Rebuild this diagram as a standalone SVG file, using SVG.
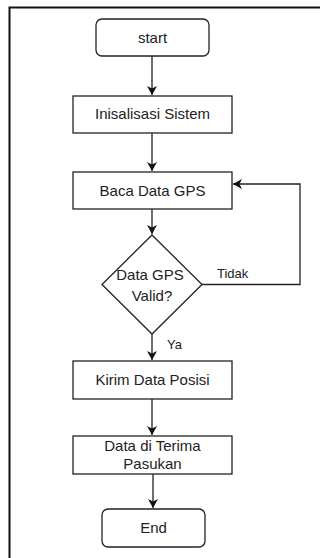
<svg xmlns="http://www.w3.org/2000/svg" width="320" height="558" viewBox="0 0 320 558">
<style>
.box{fill:#fff;stroke:#222;stroke-width:1.3}
.t{font-family:"Liberation Sans",Arial,sans-serif;font-size:15px;fill:#222;text-anchor:middle}
.lbl{font-family:"Liberation Sans",Arial,sans-serif;font-size:13px;fill:#222}
.c{fill:none;stroke:#222;stroke-width:1.3}
</style>
<defs>
<marker id="ah" markerWidth="12" markerHeight="12" refX="10" refY="6" orient="auto" markerUnits="userSpaceOnUse">
<path d="M1,1 L10,6 L1,11 L3.5,6 Z" fill="#111"/>
</marker>
</defs>
<rect x="0" y="0" width="320" height="558" fill="#fff"/>
<path d="M9.5,558 V7.5 H320" fill="none" stroke="#111" stroke-width="2"/>
<g id="connectors">
<path class="c" d="M152,56 V95" marker-end="url(#ah)"/>
<path class="c" d="M152,133 V171" marker-end="url(#ah)"/>
<path class="c" d="M152,209 V234" marker-end="url(#ah)"/>
<path class="c" d="M202,284.5 H300 V184 H233" marker-end="url(#ah)"/>
<path class="c" d="M152,334 V360" marker-end="url(#ah)"/>
<path class="c" d="M152,399 V435" marker-end="url(#ah)"/>
<path class="c" d="M153,474 V508" marker-end="url(#ah)"/>
<text class="lbl" x="217" y="278">Tidak</text>
<text class="lbl" x="167" y="349">Ya</text>
</g>
<g id="start">
<rect class="box" x="96" y="19" width="113" height="37" rx="6"/>
<text class="t" x="152.5" y="43">start</text>
</g>
<g id="init">
<rect class="box" x="73" y="96" width="159" height="37"/>
<text class="t" x="152.5" y="119">Inisalisasi Sistem</text>
</g>
<g id="baca">
<rect class="box" x="73" y="172" width="159" height="37"/>
<text class="t" x="152.5" y="196">Baca Data GPS</text>
</g>
<g id="valid">
<path class="box" d="M152,235 L202,284.5 L152,334 L102,284.5 Z"/>
<text class="t" x="150" y="280">Data GPS</text>
<text class="t" x="152" y="300.5">Valid?</text>
</g>
<g id="kirim">
<rect class="box" x="73" y="361" width="159" height="38"/>
<text class="t" x="152.5" y="384.5">Kirim Data Posisi</text>
</g>
<g id="terima">
<rect class="box" x="73" y="436" width="159" height="38"/>
<text class="t" x="152.5" y="451">Data di Terima</text>
<text class="t" x="152.5" y="469">Pasukan</text>
</g>
<g id="end">
<rect class="box" x="102" y="509" width="103" height="38" rx="6"/>
<text class="t" x="153.5" y="533">End</text>
</g>
</svg>
